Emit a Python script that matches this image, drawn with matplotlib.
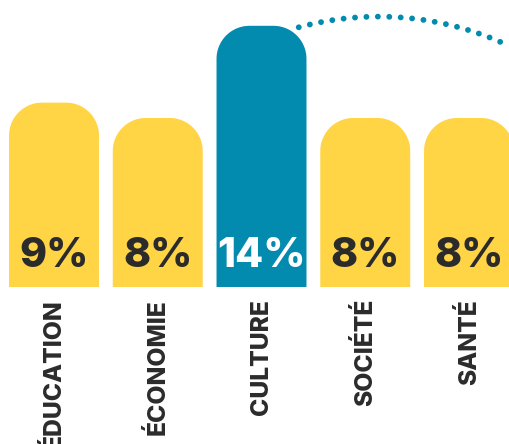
import numpy as np
import matplotlib
matplotlib.use('Agg')
import matplotlib.pyplot as plt
from matplotlib.patches import Polygon

# données
categories = ['ÉDUCATION', 'ÉCONOMIE', 'CULTURE', 'SOCIÉTÉ', 'SANTÉ']
values = [9, 8, 14, 8, 8]
labels = ['9%', '8%', '14%', '8%', '8%']
highlight = 'CULTURE'

YELLOW = '#FFD445'
TEAL = '#028BAE'
DARK = '#2B2B2B'
BASE = -3      # les barres partent un peu sous zéro
WIDTH = 0.867
RADIUS = 33    # arrondi du haut, en pixels

plt.rcParams['font.family'] = ['Inter', 'DejaVu Sans']

W, H = 509, 444
fig = plt.figure(figsize=(W / 100, H / 100), dpi=100)
ax = fig.add_axes([0, 0, 1, 1])
ax.set_xlim(-0.5205, 4.3855)
ax.set_ylim(-13.22, 15.68)
ax.axis('off')

# pixels par unité de données
px_x = W / (ax.get_xlim()[1] - ax.get_xlim()[0])
px_y = H / (ax.get_ylim()[1] - ax.get_ylim()[0])
rx, ry = RADIUS / px_x, RADIUS / px_y


def rounded_bar(x0, x1, y0, y1):
    t1 = np.linspace(np.pi, np.pi / 2, 24)
    t2 = np.linspace(np.pi / 2, 0, 24)
    left = np.column_stack([x0 + rx + rx * np.cos(t1), y1 - ry + ry * np.sin(t1)])
    right = np.column_stack([x1 - rx + rx * np.cos(t2), y1 - ry + ry * np.sin(t2)])
    return np.vstack([[x0, y0], left, right, [x1, y0]])


for i, (cat, v, lab) in enumerate(zip(categories, values, labels)):
    hi = cat == highlight
    col = TEAL if hi else YELLOW
    pts = rounded_bar(i - WIDTH / 2, i + WIDTH / 2, BASE, v)
    ax.add_patch(Polygon(pts, closed=True, facecolor=col, edgecolor='none'))
    ax.text(i, BASE + 20 / px_y, lab, ha='center', va='baseline',
            fontsize=29.5, fontweight=800, color='white' if hi else DARK)
    ax.text(i, BASE - 12 / px_y, cat, ha='center', va='top', rotation=90,
            fontsize=17.8, fontweight=800, color=DARK)

# arc pointillé décoratif (coordonnées image en pixels)
cx, cy, r = 378.7, 321.6, 305
ang = np.radians(np.linspace(105.2, 58, 200))
xs = cx + r * np.cos(ang)
ys = (H - cy) + r * np.sin(ang)
pts = ax.transData.inverted().transform(np.column_stack([xs, ys]))
ax.plot(pts[:, 0], pts[:, 1], color=TEAL, lw=4.2,
        linestyle=(0, (0.01, 1.95)), dash_capstyle='round', clip_on=False)

fig.savefig('out.png', dpi=100)
